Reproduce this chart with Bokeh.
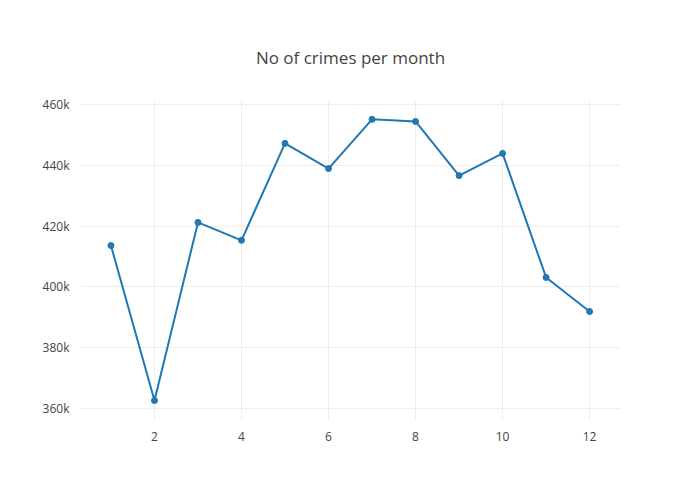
from bokeh.plotting import figure
from bokeh.models import FixedTicker, Range1d
from bokeh.embed import file_html
from bokeh.resources import INLINE

months = [1, 2, 3, 4, 5, 6, 7, 8, 9, 10, 11, 12]
crimes = [413600, 362600, 421200, 415300, 447200, 438900,
          455100, 454400, 436600, 443900, 403100, 391900]
x_ticks = [2, 4, 6, 8, 10, 12]
y_ticks = [360000, 380000, 400000, 420000, 440000, 460000]
y_labels = ["360k", "380k", "400k", "420k", "440k", "460k"]

p = figure(width=684, height=484, output_backend="svg", toolbar_location=None,
           title="No of crimes per month",
           x_range=Range1d(0.3, 12.71), y_range=Range1d(356050, 461300),
           min_border_left=80, min_border_right=64, min_border_top=100, min_border_bottom=64)
p.outline_line_color = None
p.title.align = "center"
p.title.text_font = "Open Sans"
p.title.text_font_size = "17px"
p.title.text_font_style = "normal"
p.title.text_color = "#444444"
p.title.standoff = 64

p.line(months, crimes, line_color="#1f77b4", line_width=2)
p.scatter(months, crimes, size=6, fill_color="#1f77b4", line_color="#1f77b4")

p.xaxis.ticker = FixedTicker(ticks=x_ticks)
p.yaxis.ticker = FixedTicker(ticks=y_ticks)
p.yaxis.major_label_overrides = {t: l for t, l in zip(y_ticks, y_labels)}
for ax in (p.xaxis, p.yaxis):
    ax.axis_line_color = None
    ax.major_tick_line_color = None
    ax.minor_tick_line_color = None
    ax.major_label_text_font = "Open Sans"
    ax.major_label_text_font_size = "12px"
    ax.major_label_text_color = "#444444"
p.grid.grid_line_color = "#eeeeee"
p.grid.grid_line_width = 1

open("out.html", "w").write(file_html(p, INLINE))
